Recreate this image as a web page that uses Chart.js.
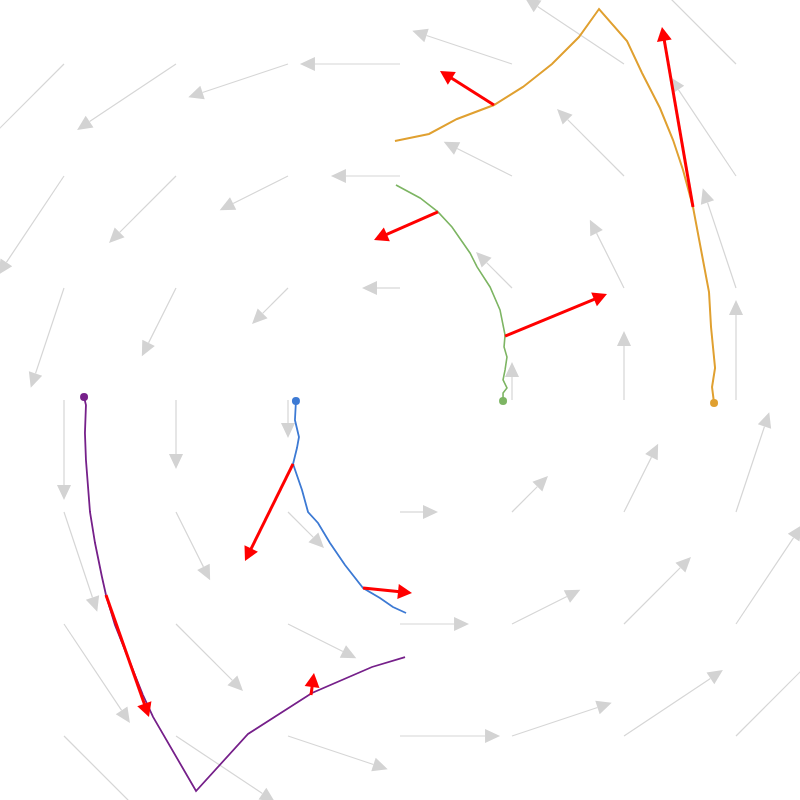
<!DOCTYPE html>
<html>
<head>
<meta charset="utf-8">
<script src="https://cdn.jsdelivr.net/npm/chart.js@4.4.1/dist/chart.umd.min.js"></script>
<style>
  html, body { margin: 0; padding: 0; background: #fff; }
  #wrap { width: 800px; height: 800px; }
</style>
</head>
<body>
<div id="wrap"><canvas id="fieldChart" width="800" height="800"></canvas></div>
<script>
// grid of the vector field (rows go top to bottom)
const gridX = [-3, -2, -1, 0, 1, 2, 3];
const gridY = [3, 2, 1, 0, -1, -2, -3];
const fieldU = [
    [-3, -3, -3, -3, -3, -3, -3],
    [-2, -2, -2, -2, -2, -2, -2],
    [-1, -1, -1, -1, -1, -1, -1],
    [0, 0, 0, 0, 0, 0, 0],
    [1, 1, 1, 1, 1, 1, 1],
    [2, 2, 2, 2, 2, 2, 2],
    [3, 3, 3, 3, 3, 3, 3],
];
const fieldV = [
    [-3, -2, -1, 0, 1, 2, 3],
    [-3, -2, -1, 0, 1, 2, 3],
    [-3, -2, -1, 0, 1, 2, 3],
    [-3, -2, -1, 0, 1, 2, 3],
    [-3, -2, -1, 0, 1, 2, 3],
    [-3, -2, -1, 0, 1, 2, 3],
    [-3, -2, -1, 0, 1, 2, 3],
];
const fieldScale = 0.277;

// trajectories
const orangeX = [2.804, 2.786, 2.813, 2.777, 2.759, 2.705, 2.616, 2.527, 2.438, 2.321, 2.161, 2.027, 1.777, 1.598, 1.357, 1.098, 0.839, 0.509, 0.259, -0.045];
const orangeY = [-0.027, 0.116, 0.286, 0.652, 0.964, 1.25, 1.723, 2.054, 2.321, 2.607, 2.92, 3.205, 3.491, 3.241, 3.0, 2.795, 2.634, 2.509, 2.375, 2.313];
const greenX = [0.92, 0.92, 0.955, 0.92, 0.938, 0.955, 0.929, 0.938, 0.893, 0.804, 0.688, 0.625, 0.464, 0.339, 0.179, -0.036];
const greenY = [-0.009, 0.063, 0.107, 0.179, 0.268, 0.384, 0.473, 0.58, 0.804, 1.009, 1.188, 1.313, 1.545, 1.679, 1.804, 1.92];
const blueX = [-0.929, -0.938, -0.902, -0.92, -0.955, -0.875, -0.821, -0.732, -0.625, -0.491, -0.33, -0.179, -0.063, 0.054];
const blueY = [-0.009, -0.179, -0.33, -0.429, -0.571, -0.804, -1.0, -1.098, -1.277, -1.473, -1.679, -1.768, -1.848, -1.902];
const purpleX = [-2.821, -2.804, -2.813, -2.804, -2.768, -2.723, -2.661, -2.625, -2.545, -2.295, -2.205, -1.821, -1.357, -0.786, -0.25, 0.045];
const purpleY = [0.027, -0.045, -0.295, -0.536, -1.0, -1.277, -1.58, -1.741, -2.009, -2.634, -2.83, -3.491, -2.982, -2.616, -2.384, -2.295];

// red arrows: start and tip
const redFromX = [2.616, 0.839, 0.339, 0.938, -0.955, -0.33, -2.625, -0.795];
const redFromY = [1.723, 2.634, 1.679, 0.571, -0.571, -1.679, -1.741, -2.634];
const redToX = [2.339, 0.357, -0.232, 1.848, -1.384, 0.107, -2.241, -0.768];
const redToY = [3.33, 2.938, 1.429, 0.946, -1.438, -1.723, -2.83, -2.438];

const half = 400 / 112;

function zip(xs, ys) {
    return xs.map((x, i) => ({ x: x, y: ys[i] }));
}

function drawHead(ctx, tx, ty, ux, uy, len, w, color) {
    ctx.beginPath();
    ctx.moveTo(tx, ty);
    ctx.lineTo(tx - ux * len - uy * w, ty - uy * len + ux * w);
    ctx.lineTo(tx - ux * len + uy * w, ty - uy * len - ux * w);
    ctx.closePath();
    ctx.fillStyle = color;
    ctx.fill();
}

const arrowPlugin = {
    id: "arrows",
    beforeDatasetsDraw(chart) {
        const ctx = chart.ctx;
        const xs = chart.scales.x, ys = chart.scales.y;
        ctx.save();
        ctx.strokeStyle = "#d6d6d6";
        ctx.lineWidth = 1.2;
        gridY.forEach((gy, r) => {
            gridX.forEach((gx, c) => {
                const u = fieldU[r][c], v = fieldV[r][c];
                if (u === 0 && v === 0) return;
                const x0 = xs.getPixelForValue(gx), y0 = ys.getPixelForValue(gy);
                const x1 = xs.getPixelForValue(gx + u * fieldScale);
                const y1 = ys.getPixelForValue(gy + v * fieldScale);
                const d = Math.hypot(x1 - x0, y1 - y0);
                const ux = (x1 - x0) / d, uy = (y1 - y0) / d;
                const tx = x1 + ux * 7, ty = y1 + uy * 7;
                ctx.beginPath();
                ctx.moveTo(x0, y0);
                ctx.lineTo(tx - ux * 15, ty - uy * 15);
                ctx.stroke();
                drawHead(ctx, tx, ty, ux, uy, 15, 7, "#d3d3d3");
            });
        });
        ctx.restore();
    },
    afterDatasetsDraw(chart) {
        const ctx = chart.ctx;
        const xs = chart.scales.x, ys = chart.scales.y;
        ctx.save();
        ctx.strokeStyle = "#ff0000";
        ctx.lineWidth = 3;
        redFromX.forEach((fx, i) => {
            const x0 = xs.getPixelForValue(fx), y0 = ys.getPixelForValue(redFromY[i]);
            const tx = xs.getPixelForValue(redToX[i]), ty = ys.getPixelForValue(redToY[i]);
            const d = Math.hypot(tx - x0, ty - y0);
            const ux = (tx - x0) / d, uy = (ty - y0) / d;
            ctx.beginPath();
            ctx.moveTo(x0, y0);
            ctx.lineTo(tx - ux * 12, ty - uy * 12);
            ctx.stroke();
            drawHead(ctx, tx, ty, ux, uy, 14, 7.5, "#ff0000");
        });
        ctx.restore();
    },
};

function track(xs, ys, color, width) {
    return {
        data: zip(xs, ys),
        showLine: true,
        borderColor: color,
        backgroundColor: color,
        borderWidth: width,
        tension: 0,
        pointRadius: (c) => (c.dataIndex === 0 ? 4 : 0),
        pointBorderWidth: 0,
    };
}

new Chart(document.getElementById("fieldChart"), {
    type: "scatter",
    data: {
        datasets: [
            track(orangeX, orangeY, "#e0a030", 2),
            track(greenX, greenY, "#7db563", 1.6),
            track(blueX, blueY, "#3d7ad4", 1.8),
            track(purpleX, purpleY, "#76208a", 1.8),
        ],
    },
    options: {
        responsive: false,
        animation: false,
        layout: { padding: 0, autoPadding: false },
        plugins: { legend: { display: false }, tooltip: { enabled: false } },
        scales: {
            x: { type: "linear", min: -half, max: half, display: false },
            y: { type: "linear", min: -half, max: half, display: false },
        },
    },
    plugins: [arrowPlugin],
});
</script>
</body>
</html>
